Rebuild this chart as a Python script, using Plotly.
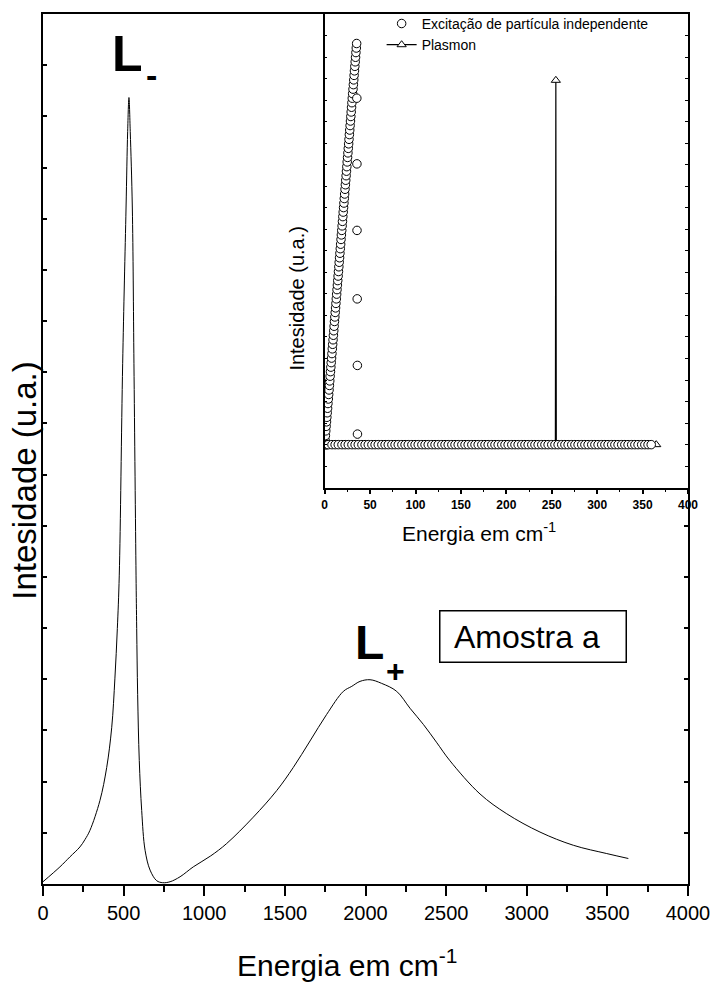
import plotly.graph_objects as go

# ---------------- main spectrum (Amostra a) ----------------
energy = [0, 105, 167, 229, 260, 291, 353, 395, 426, 446, 461, 473, 494, 515, 525, 533, 541,
          554, 564, 577, 581, 587, 597, 612, 633, 664, 705, 742, 788, 850, 932, 1040, 1139,
          1304, 1449, 1552, 1656, 1759, 1863, 1915, 1966, 2028, 2100, 2193, 2276, 2359, 2440,
          2524, 2710, 2876, 3082, 3289, 3496, 3630]
intensity = [0.26, 1.97, 3.12, 4.26, 5.10, 6.16, 9.59, 13.39, 17.96, 23.66, 29.37, 35.5, 59.8,
             77.7, 86.5, 90.4, 86.5, 77.7, 59.8, 35.5, 29.37, 21.8, 14.2, 8.45, 3.88, 1.6, 0.38,
             0.15, 0.26, 0.83, 1.97, 3.23, 4.65, 7.68, 10.73, 13.39, 16.44, 19.49, 22.15, 22.72,
             23.29, 23.48, 23.06, 22.15, 20.2, 18.34, 16.3, 14.16, 10.35, 8.07, 5.97, 4.45,
             3.50, 2.93]

# ---------------- inset: independent particle excitation ----------------
rise_x = [0.4, 0.8, 1.2, 1.6, 2.0, 2.4, 2.8, 3.2, 3.6, 4.0, 4.4, 4.8, 5.2, 5.6, 6.0, 6.4,
          6.8, 7.2, 7.6, 8.0, 8.4, 8.8, 9.2, 9.6, 10.0, 10.4, 10.8, 11.2, 11.6, 12.0, 12.4,
          12.8, 13.2, 13.6, 14.0, 14.4, 14.8, 15.2, 15.6, 16.0, 16.4, 16.8, 17.2, 17.6, 18.0,
          18.4, 18.8, 19.2, 19.6, 20.0, 20.4, 20.8, 21.2, 21.6, 22.0, 22.4, 22.8, 23.2, 23.6,
          24.0, 24.4, 24.8, 25.2, 25.6, 26.0, 26.4, 26.8, 27.2, 27.6, 28.0, 28.4, 28.8, 29.2,
          29.6, 30.0, 30.4, 30.8, 31.2, 31.6, 32.0, 32.4, 32.8, 33.2, 33.6, 34.0, 34.4, 34.8,
          35.2]
rise_y = [0.21, 0.42, 0.64, 0.85, 1.06, 1.27, 1.48, 1.69, 1.91, 2.12, 2.33, 2.54, 2.75, 2.96,
          3.18, 3.39, 3.60, 3.81, 4.02, 4.23, 4.45, 4.66, 4.87, 5.08, 5.29, 5.50, 5.72, 5.93,
          6.14, 6.35, 6.56, 6.77, 6.99, 7.20, 7.41, 7.62, 7.83, 8.04, 8.26, 8.47, 8.68, 8.89,
          9.10, 9.31, 9.53, 9.74, 9.95, 10.16, 10.37, 10.59, 10.80, 11.01, 11.22, 11.43, 11.64,
          11.86, 12.07, 12.28, 12.49, 12.70, 12.91, 13.13, 13.34, 13.55, 13.76, 13.97, 14.18,
          14.40, 14.61, 14.82, 15.03, 15.24, 15.45, 15.67, 15.88, 16.09, 16.30, 16.51, 16.72,
          16.94, 17.15, 17.36, 17.57, 17.78, 17.99, 18.21, 18.42, 18.63]
fall_x = [35.4, 35.5, 35.6, 35.8, 36.0, 36.1]
fall_y = [16.09, 13.04, 9.95, 6.77, 3.68, 0.49]
base_x = [0.5, 1.5, 2.5, 4, 8, 11.5, 15, 19, 22.5, 26, 30, 33.5, 37, 41, 44.5, 48, 52, 55.5,
          59, 63, 66.5, 70, 74, 77.5, 81, 85, 88.5, 92, 96, 99.5, 103, 107, 110.5, 114, 118,
          121.5, 125, 129, 132.5, 136, 140, 143.5, 147, 151, 154.5, 158, 162, 165.5, 169, 173,
          176.5, 180, 184, 187.5, 191, 195, 198.5, 202, 206, 209.5, 213, 217, 220.5, 224, 228,
          231.5, 235, 239, 242.5, 246, 250, 253.5, 257, 261, 264.5, 268, 272, 275.5, 279, 283,
          286.5, 290, 294, 297.5, 301, 305, 308.5, 312, 316, 319.5, 323, 327, 330.5, 334, 338,
          341.5, 345, 349, 352.5, 356, 359.5]
base_y = [0.0] * len(base_x)

# ---------------- inset: plasmon ----------------
plasmon_x = [0, 20, 40, 60, 80, 100, 120, 140, 160, 180, 200, 220, 240, 254, 254.5, 255,
             270, 290, 310, 330, 350, 365]
plasmon_y = [0, 0, 0, 0, 0, 0, 0, 0, 0, 0, 0, 0, 0, 0, 16.92, 0,
             0, 0, 0, 0, 0, 0]

FONT = "Arial, Liberation Sans, sans-serif"

fig = go.Figure()

fig.add_trace(go.Scatter(
    x=energy, y=intensity, mode="lines", line=dict(color="black", width=1, shape="spline", smoothing=1.0),
    showlegend=False, xaxis="x", yaxis="y"))

fig.add_trace(go.Scatter(
    x=plasmon_x, y=plasmon_y, mode="lines+markers", name="Plasmon", legendrank=2,
    line=dict(color="black", width=1.2),
    marker=dict(symbol="triangle-up", size=8, color="white", line=dict(color="black", width=1)),
    xaxis="x2", yaxis="y2"))

fig.add_trace(go.Scatter(
    x=rise_x + fall_x + base_x, y=rise_y + fall_y + base_y, mode="markers",
    name="Excitação de partícula independente", legendrank=1,
    marker=dict(symbol="circle", size=8.5, color="white", line=dict(color="black", width=1)),
    xaxis="x2", yaxis="y2"))

axis_common = dict(showgrid=False, zeroline=False, linecolor="black", tickcolor="black")

fig.update_layout(
    width=717, height=1000,
    margin=dict(l=43, r=29, t=8, b=116),
    paper_bgcolor="white", plot_bgcolor="white",
    font=dict(family=FONT, color="black"),
    xaxis=dict(**axis_common, domain=[0, 1], range=[0, 4000], dtick=500, tick0=0,
               ticks="outside", ticklen=10, tickwidth=2, linewidth=2, mirror=True,
               minor=dict(dtick=250, ticks="outside", ticklen=6, tickwidth=1.5, tickcolor="black"),
               tickfont=dict(size=20, family=FONT), anchor="y"),
    yaxis=dict(**axis_common, domain=[0, 1], range=[0, 100], dtick=100/17, tick0=0,
               ticks="inside", ticklen=4, tickwidth=1.5, linewidth=2, mirror="ticks",
               showticklabels=False, anchor="x"),
    xaxis2=dict(**axis_common, domain=[0.4367, 1], range=[0, 400], dtick=50, tick0=0,
                ticks="outside", ticklen=5, tickwidth=1.5, linewidth=1.5, mirror=True,
                minor=dict(dtick=25, ticks="outside", ticklen=3, tickwidth=1, tickcolor="black"),
                tickfont=dict(size=12, family=FONT, weight="bold"), anchor="y2"),
    yaxis2=dict(**axis_common, domain=[0.4555, 1], range=[-2, 20], dtick=1, tick0=0,
                ticks="inside", ticklen=3, tickwidth=1, linewidth=1.5, mirror="ticks",
                showticklabels=False, anchor="x2"),
    legend=dict(x=0.525, y=1.007, xanchor="left", yanchor="top", bgcolor="rgba(0,0,0,0)",
                font=dict(size=14, family=FONT), itemwidth=30, tracegroupgap=0,
                traceorder="normal"),
    annotations=[
        dict(text="Energia em cm<sup>-1</sup>", xref="paper", yref="paper", x=0.471, y=-0.091,
             xanchor="center", yanchor="middle", showarrow=False, font=dict(size=30)),
        dict(text="Intesidade (u.a.)", xref="paper", yref="paper", x=-0.028, y=0.4635,
             xanchor="center", yanchor="middle", textangle=-90, showarrow=False, font=dict(size=33)),
        dict(text="Energia em cm<sup>-1</sup>", xref="paper", yref="paper", x=0.676, y=0.405,
             xanchor="center", yanchor="middle", showarrow=False, font=dict(size=21)),
        dict(text="Intesidade (u.a.)", xref="paper", yref="paper", x=0.394, y=0.673,
             xanchor="center", yanchor="middle", textangle=-90, showarrow=False, font=dict(size=20)),
        # L- label
        dict(text="<b>L</b>", xref="paper", yref="paper", x=0.1573, y=0.954,
             xanchor="right", yanchor="middle", showarrow=False, font=dict(size=50), borderpad=0),
        dict(text="<b>-</b>", xref="paper", yref="paper", x=0.1575, y=0.9295,
             xanchor="left", yanchor="middle", showarrow=False, font=dict(size=34), borderpad=0),
        # L+ label
        dict(text="<b>L</b>", xref="paper", yref="paper", x=0.5295, y=0.278,
             xanchor="right", yanchor="middle", showarrow=False, font=dict(size=48), borderpad=0),
        dict(text="<b>+</b>", xref="paper", yref="paper", x=0.5310, y=0.2454,
             xanchor="left", yanchor="middle", showarrow=False, font=dict(size=32), borderpad=0),
        dict(text="\u2009Amostra a", xref="paper", yref="paper", x=0.7597, y=0.2848,
             xanchor="center", yanchor="middle", showarrow=False, font=dict(size=32),
             width=171, height=36, align="left",
             bordercolor="black", borderwidth=1.5, borderpad=7, bgcolor="white"),
    ],
)

fig.write_html("out.html")
